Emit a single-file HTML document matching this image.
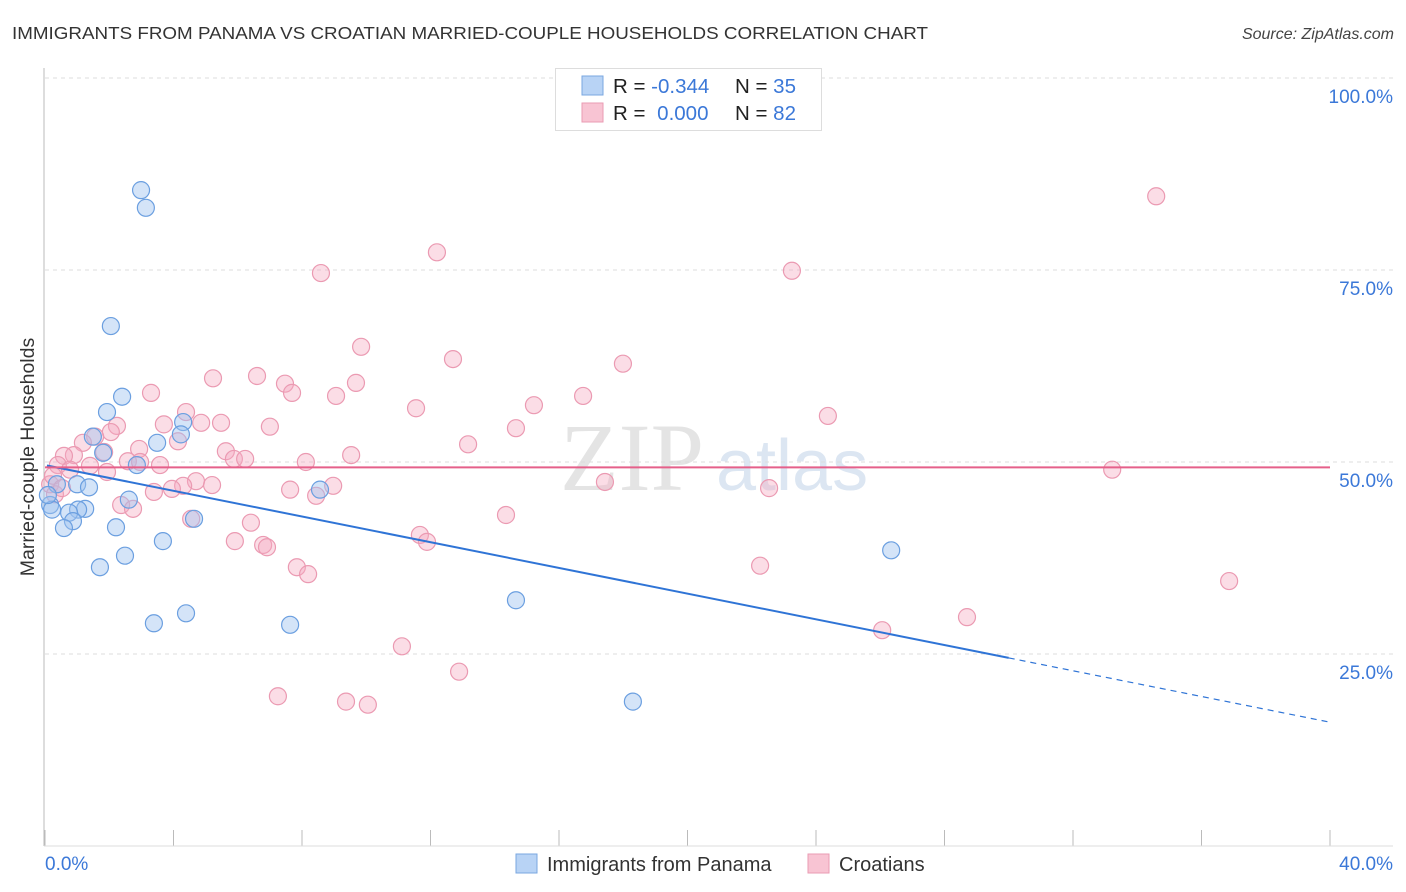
<!DOCTYPE html>
<html><head><meta charset="utf-8"><style>
body{margin:0;background:#fff;font-family:"Liberation Sans",sans-serif;}
svg{display:block}
</style></head><body>
<svg id="chart" width="1406" height="892" xmlns="http://www.w3.org/2000/svg">
<text x="12" y="39" font-size="17.5" fill="#333" textLength="916" lengthAdjust="spacingAndGlyphs">IMMIGRANTS FROM PANAMA VS CROATIAN MARRIED-COUPLE HOUSEHOLDS CORRELATION CHART</text>
<text x="1394" y="39" font-size="16" fill="#444" font-style="italic" text-anchor="end">Source: ZipAtlas.com</text>
<text x="560" y="490" font-size="96" fill="#e4e4e4" font-family="Liberation Serif,serif">ZIP</text>
<text x="716" y="490" font-size="72" fill="#dce6f2">atlas</text>
<g id="grid"></g>
<line x1="44" y1="68" x2="44" y2="846" stroke="#bbb"/>
<line x1="44" y1="846" x2="1393" y2="846" stroke="#ddd"/>
<text transform="translate(34,457) rotate(-90)" font-size="19.5" fill="#333" text-anchor="middle">Married-couple Households</text>
<text x="45" y="870" font-size="19" fill="#3b78d8">0.0%</text>
<text x="1393" y="870" font-size="19" fill="#3b78d8" text-anchor="end">40.0%</text>
<g id="pts"></g>
<g id="lines"></g>
<g>
<rect x="555.5" y="68.5" width="266" height="62" fill="#fff" stroke="#ddd"/>
<rect x="582" y="76" width="21" height="19" fill="#b8d3f5" stroke="#7aa7e0"/>
<rect x="582" y="103" width="21" height="19" fill="#f8c4d3" stroke="#ea9bb3"/>
<text x="613" y="93" font-size="20.5" fill="#222">R = <tspan fill="#3b78d8">-0.344</tspan></text>
<text x="735" y="93" font-size="20.5" fill="#222">N = <tspan fill="#3b78d8">35</tspan></text>
<text x="613" y="120" font-size="20.5" fill="#222">R = <tspan fill="#3b78d8" dx="6">0.000</tspan></text>
<text x="735" y="120" font-size="20.5" fill="#222">N = <tspan fill="#3b78d8">82</tspan></text>
</g>
<rect x="516" y="854" width="21" height="19" fill="#b8d3f5" stroke="#7aa7e0"/>
<text x="547" y="871" font-size="20" fill="#333">Immigrants from Panama</text>
<rect x="808" y="854" width="21" height="19" fill="#f8c4d3" stroke="#ea9bb3"/>
<text x="839" y="871" font-size="20" fill="#333">Croatians</text>
</svg>
<script>
const yTicks=[100,75,50,25];
const yTickLabels=["100.0%","75.0%","50.0%","25.0%"];
const xTicks=[0,4,8,12,16,20,24,28,32,36,40];
const blueX=[2.99,3.14,2.05,2.40,1.93,4.30,1.49,4.23,3.49,1.81,2.86,8.56,0.37,1.00,1.37,2.61,0.16,0.22,1.25,1.03,0.75,0.87,0.59,4.64,2.21,3.67,2.49,1.71,26.34,14.66,4.39,3.39,7.63,18.30,0.09];
const blueY=[85.4,83.1,67.7,58.5,56.5,55.2,53.3,53.6,52.5,51.2,49.6,46.4,47.1,47.1,46.7,45.1,44.4,43.8,43.9,43.8,43.4,42.3,41.4,42.6,41.5,39.7,37.8,36.3,38.5,32.0,30.3,29.0,28.8,18.8,45.7];
const pinkX=[34.59,12.20,8.59,23.25,9.84,12.70,17.99,6.60,5.23,7.47,9.68,3.30,7.69,9.06,16.75,15.22,11.55,24.37,4.39,3.70,5.48,4.86,7.00,2.24,14.66,2.05,1.56,4.14,13.17,1.18,1.84,5.63,2.93,0.90,0.59,9.53,5.88,6.23,2.58,3.58,8.12,0.40,33.22,1.93,8.97,4.70,5.20,4.30,3.95,7.63,17.43,22.54,3.39,8.44,0.16,0.25,2.37,2.74,14.35,4.55,6.41,11.67,11.89,5.91,6.79,6.91,7.84,8.19,22.26,36.86,28.70,26.06,11.11,12.89,7.25,9.37,10.05,0.31,0.53,2.96,0.78,1.40];
const pinkY=[84.6,77.3,74.6,74.9,65.0,63.4,62.8,61.2,60.9,60.2,60.3,59.0,59.0,58.6,58.6,57.4,57.0,56.0,56.5,54.9,55.1,55.1,54.6,54.7,54.4,53.9,53.3,52.7,52.3,52.5,51.3,51.4,51.7,50.9,50.8,50.9,50.4,50.4,50.1,49.6,50.0,49.6,49.0,48.7,46.9,47.5,47.0,46.9,46.5,46.4,47.4,46.6,46.1,45.6,47.1,48.2,44.4,43.9,43.1,42.6,42.1,40.5,39.6,39.7,39.2,38.9,36.3,35.4,36.5,34.5,29.8,28.1,26.0,22.7,19.5,18.8,18.4,45.8,46.6,50.0,49.0,49.5];
const blueTrend=[49.6,-0.837];
const pinkTrend=[49.3,0];
const NS="http://www.w3.org/2000/svg";
const sx=v=>45+v*(1285/40);
const sy=v=>846-v*7.68;
function mk(tag,attrs,parent){const e=document.createElementNS(NS,tag);for(const k in attrs)e.setAttribute(k,attrs[k]);parent.appendChild(e);return e;}
const grid=document.getElementById('grid');
yTicks.forEach((t,i)=>{
 const l=mk('line',{x1:45,x2:1393,y1:sy(t),y2:sy(t),stroke:'#ddd','stroke-dasharray':'4,4'},grid);
 
 
 const tx=mk('text',{x:1393,y:sy(t)+25,'font-size':19,fill:'#3b78d8','text-anchor':'end'},grid);
 tx.textContent=yTickLabels[i];
 
 
});
xTicks.forEach(t=>{
 const l=mk('line',{x1:sx(t),x2:sx(t),y1:830,y2:846,stroke:'#bbb'},grid);
 
 
});
const pts=document.getElementById('pts');
pinkX.forEach((x,i)=>{
 const c=mk('circle',{cx:sx(x),cy:sy(pinkY[i]),r:8.5,fill:'rgba(244,170,192,0.4)',stroke:'#eb9ab2','stroke-width':1.2},pts);
 
 
});
blueX.forEach((x,i)=>{
 const c=mk('circle',{cx:sx(x),cy:sy(blueY[i]),r:8.5,fill:'rgba(160,196,240,0.45)',stroke:'#6b9fe0','stroke-width':1.2},pts);
 
 
});
const lines=document.getElementById('lines');
const bl=x=>blueTrend[0]+blueTrend[1]*x;
let l1=mk('line',{x1:sx(0.06),y1:sy(bl(0.06)),x2:sx(30),y2:sy(bl(30)),stroke:'#2f74d6','stroke-width':2},lines);


let l2=mk('line',{x1:sx(30),y1:sy(bl(30)),x2:sx(40),y2:sy(bl(40)),stroke:'#2f74d6','stroke-width':1.2,'stroke-dasharray':'6,5'},lines);


let l3=mk('line',{x1:sx(0),y1:sy(pinkTrend[0]),x2:sx(40),y2:sy(pinkTrend[0]+pinkTrend[1]*40),stroke:'#e5608a','stroke-width':2},lines);


</script>
</body></html>
